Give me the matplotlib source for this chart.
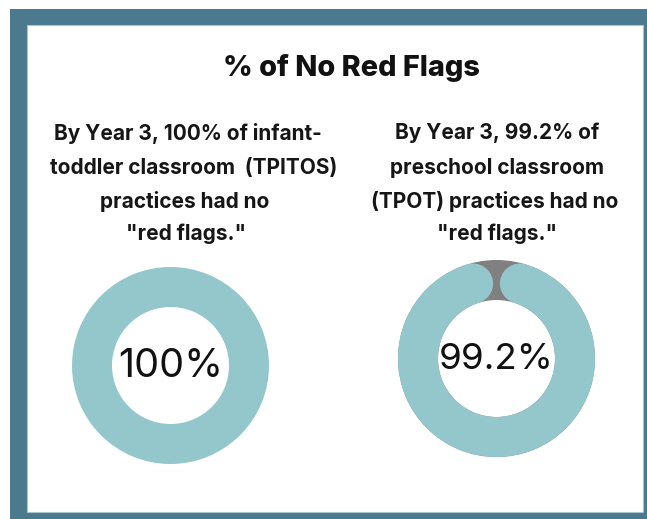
import numpy as np
import matplotlib
matplotlib.use("Agg")
import matplotlib.pyplot as plt
from matplotlib.patches import Wedge, Circle, Rectangle

# ---- data ----
title = "% of No Red Flags"
labels = ["TPITOS", "TPOT"]
values = [100.0, 99.2]
center_texts = ["100%", "99.2%"]
captions = [
    ["By Year 3, 100% of infant-", "toddler classroom  (TPITOS)", "practices had no", "\"red flags.\""],
    ["By Year 3, 99.2% of", "preschool classroom", "(TPOT) practices had no", "\"red flags.\""],
]

# ---- style ----
W, H = 647, 519
TEAL = "#93C7CC"
GRAY = "#808080"
BORDER = "#4B7A8E"

fig = plt.figure(figsize=(W / 100, H / 100), dpi=100)
ax = fig.add_axes([0, 0, 1, 1])
ax.set_xlim(0, W)
ax.set_ylim(H, 0)
ax.set_aspect("equal")
ax.axis("off")

# frame
ax.add_patch(Rectangle((10, 9), W - 10, H - 9, facecolor=BORDER, edgecolor="none"))
ax.add_patch(Rectangle((27, 25), 643 - 27, 512 - 25, facecolor="white",
                       edgecolor="#A9C4CF", linewidth=0.8))

ax.text(351, 68, title, ha="center", va="center", fontsize=20.8,
        fontweight="heavy", family="Inter", color="#111111")

# caption layouts
caption_x = [[188, 194, 185, 186], [497, 497, 495, 497]]
caption_y = [133, 168, 201, 234]
for ci, lines in enumerate(captions):
    for li, line in enumerate(lines):
        ax.text(caption_x[ci][li], caption_y[li], line, ha="center", va="center",
                fontsize=15, fontweight="bold", family="Inter", color="#161616")

centers = [(170.5, 365.5), (496.5, 358.5)]
center_sizes = [28.5, 26.5]
r_out = 98.5
width = 40.0
r_mid = r_out - width / 2
cap_r = width / 2

for (cx, cy), v, txt, fs in zip(centers, values, center_texts, center_sizes):
    # axes y is inverted; angles measured in data coords (y down) -> top is 270 deg
    if v >= 100:
        ax.add_patch(Wedge((cx, cy), r_out, 0, 360, width=width,
                           facecolor=TEAL, edgecolor="none"))
    else:
        ax.add_patch(Wedge((cx, cy), r_out, 0, 360, width=width,
                           facecolor=GRAY, edgecolor="none"))
        gap_deg = 360 * (100 - v) / 100
        cap_deg = np.degrees(np.arcsin((cap_r + 1.5) / r_mid))
        top = 270.0
        start = top + gap_deg / 2 + cap_deg
        end = top + 360 - gap_deg / 2 - cap_deg
        ax.add_patch(Wedge((cx, cy), r_out, start, end, width=width,
                           facecolor=TEAL, edgecolor="none"))
        for a in (start, end):
            ar = np.radians(a)
            ax.add_patch(Circle((cx + r_mid * np.cos(ar), cy + r_mid * np.sin(ar)),
                                cap_r, facecolor=TEAL, edgecolor="none"))
    ax.text(cx, cy + 1, txt, ha="center", va="center", fontsize=fs,
            family="Inter", color="#111111")

fig.savefig("out.png", dpi=100)
